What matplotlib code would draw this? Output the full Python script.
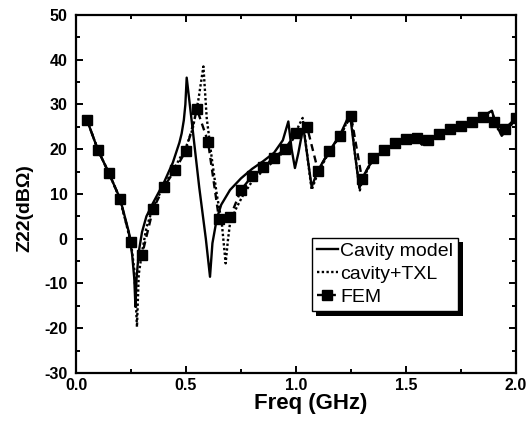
import numpy as np
import matplotlib
matplotlib.use('Agg')
import matplotlib.pyplot as plt
from matplotlib.patches import Rectangle
from matplotlib.ticker import MultipleLocator

plt.rcParams['font.family'] = ['Liberation Sans', 'DejaVu Sans']
plt.rcParams['axes.unicode_minus'] = False

# FEM samples (every 0.05 GHz)
fem_f = [0.05, 0.10, 0.15, 0.20, 0.25, 0.30, 0.35, 0.40, 0.45, 0.50,
         0.55, 0.60, 0.65, 0.70, 0.75, 0.80, 0.85, 0.90, 0.95, 1.00,
         1.05, 1.10, 1.15, 1.20, 1.25, 1.30, 1.35, 1.40, 1.45, 1.50,
         1.55, 1.60, 1.65, 1.70, 1.75, 1.80, 1.85, 1.90, 1.95, 2.00]
fem_z = [26.5, 19.8, 14.6, 8.9, -0.7, -3.6, 6.6, 11.6, 15.4, 19.7,
         28.9, 21.7, 4.4, 4.8, 10.9, 14.0, 16.1, 18.1, 20.1, 23.6,
         25.0, 15.2, 19.5, 23.0, 27.5, 13.3, 18.0, 19.8, 21.3, 22.2,
         22.6, 22.0, 23.4, 24.5, 25.2, 26.0, 27.2, 26.0, 24.6, 27.0]

# cavity model
cav_f = [0.05, 0.10, 0.15, 0.20, 0.24, 0.255, 0.265, 0.27, 0.275, 0.285,
         0.30, 0.32, 0.35, 0.40, 0.44, 0.47, 0.48, 0.49, 0.497, 0.503,
         0.53, 0.56, 0.59, 0.609, 0.62, 0.64, 0.66, 0.70, 0.75, 0.80,
         0.85, 0.90, 0.94, 0.965, 0.98, 0.995, 1.01, 1.033, 1.05, 1.071,
         1.10, 1.15, 1.20, 1.245, 1.265, 1.288, 1.30, 1.35, 1.40, 1.45,
         1.50, 1.55, 1.572, 1.60, 1.65, 1.70, 1.75, 1.80, 1.85, 1.89,
         1.91, 1.935, 1.96, 2.00]
cav_z = [26.5, 19.8, 14.6, 9.0, 1.5, -3.5, -9.0, -15.2, -9.0, -3.0,
         1.5, 5.0, 8.0, 12.6, 17.0, 21.5, 23.5, 26.5, 30.0, 36.0,
         24.5, 11.5, 0.0, -8.5, -1.0, 4.5, 7.6, 10.9, 13.5, 15.6,
         17.3, 19.2, 22.0, 26.2, 20.0, 15.8, 19.0, 25.0, 19.0, 11.6,
         15.3, 19.5, 23.2, 28.0, 20.0, 11.3, 13.5, 17.8, 19.8, 21.2,
         22.1, 22.6, 21.0, 22.0, 23.3, 24.4, 25.2, 26.2, 27.4, 28.6,
         25.5, 23.0, 24.5, 27.0]

# cavity + TXL
txl_f = [0.05, 0.10, 0.15, 0.20, 0.25, 0.265, 0.277, 0.285, 0.30, 0.32,
         0.35, 0.40, 0.45, 0.50, 0.53, 0.556, 0.579, 0.594, 0.617, 0.64,
         0.662, 0.68, 0.69, 0.70, 0.73, 0.76, 0.80, 0.85, 0.90, 0.95,
         0.99, 1.01, 1.03, 1.05, 1.071, 1.10, 1.15, 1.20, 1.25, 1.265,
         1.29, 1.30, 1.35, 1.40, 1.45, 1.50, 1.55, 1.572, 1.60, 1.65,
         1.70, 1.75, 1.80, 1.85, 1.89, 1.91, 1.935, 1.96, 2.00]
txl_z = [26.5, 19.8, 14.6, 8.9, -1.0, -7.0, -19.7, -8.0, -3.0, 2.5,
         7.0, 12.0, 16.0, 20.5, 24.5, 31.0, 38.5, 27.0, 18.0, 9.8,
         3.8, -5.5, -0.5, 3.5, 7.0, 9.8, 12.8, 15.2, 17.4, 19.7,
         22.5, 25.0, 27.0, 19.0, 10.9, 14.8, 19.3, 23.0, 27.8, 20.0,
         10.8, 13.0, 17.8, 19.8, 21.2, 22.1, 22.6, 21.0, 22.0, 23.3,
         24.4, 25.2, 26.2, 27.4, 28.5, 25.0, 23.5, 24.5, 26.5]

fig = plt.figure(figsize=(5.32, 4.33), dpi=100)
ax = fig.add_axes([0.1429, 0.1386, 0.8271, 0.8268])

ax.plot(cav_f, cav_z, color='black', lw=1.7, label='Cavity model')
ax.plot(txl_f, txl_z, color='black', lw=1.7, linestyle=(0, (1, 1)),
        label='cavity+TXL')
ax.plot(fem_f, fem_z, color='black', lw=1.7, linestyle=(0, (3, 2)),
        marker='s', markersize=6.5, label='FEM')

ax.set_xlim(0, 2.0)
ax.set_ylim(-30, 50)
ax.xaxis.set_major_locator(MultipleLocator(0.5))
ax.xaxis.set_minor_locator(MultipleLocator(0.25))
ax.yaxis.set_major_locator(MultipleLocator(10))
ax.yaxis.set_minor_locator(MultipleLocator(5))
ax.set_xticks([0, 0.5, 1.0, 1.5, 2.0])
ax.set_xticklabels(['0.0', '0.5', '1.0', '1.5', '2.0'])

ax.tick_params(which='both', direction='in', top=True, right=True,
               width=1.4, labelsize=11.5)
ax.tick_params(which='major', length=5)
ax.tick_params(which='minor', length=3)
ax.tick_params(axis='y', pad=6)
for lbl in ax.get_xticklabels() + ax.get_yticklabels():
    lbl.set_fontweight('bold')
for spine in ax.spines.values():
    spine.set_linewidth(1.6)

ax.set_xlabel('Freq (GHz)', fontsize=16, fontweight='bold')
ax.set_ylabel('Z22(dB\u03a9)', fontsize=14, fontweight='bold')
ax.xaxis.set_label_coords(0.534, -0.056)
ax.yaxis.set_label_coords(-0.098, 0.461)

leg = ax.legend(loc='upper left', bbox_to_anchor=(0.536, 0.378),
                fontsize=14, frameon=True, fancybox=False, framealpha=1,
                edgecolor='black', borderpad=0.25, labelspacing=0.28,
                handlelength=1.1, handletextpad=0.12, borderaxespad=0)
leg.get_frame().set_linewidth(1.0)
leg.set_zorder(10)

# black drop shadow behind the legend box
fig.canvas.draw()
bb = leg.get_frame().get_window_extent()
shadow = Rectangle((bb.x0 + 4.5, bb.y0 - 4.5), bb.width, bb.height,
                   transform=None, facecolor='black', edgecolor='none',
                   zorder=9)
ax.add_artist(shadow)

fig.savefig('out.png', dpi=100)
